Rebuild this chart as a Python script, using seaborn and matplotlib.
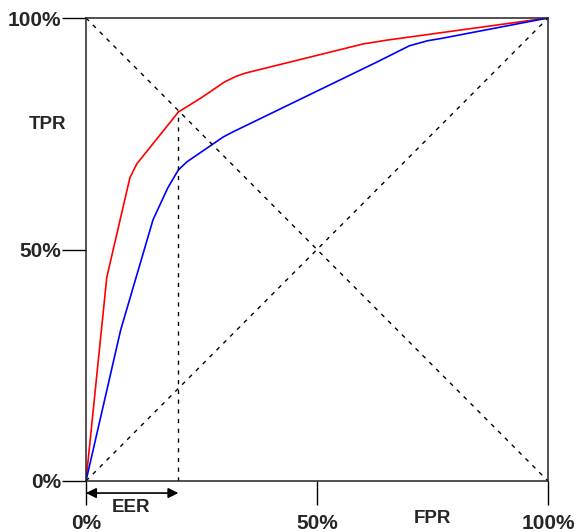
import numpy as np
import pandas as pd
import matplotlib
matplotlib.use("Agg")
import matplotlib.pyplot as plt
import seaborn as sns

# ROC curves (FPR, TPR as fractions)
red_fpr = [0.0, 0.045, 0.095, 0.11, 0.20, 0.25, 0.30, 0.325, 0.345, 0.60, 0.65, 1.0]
red_tpr = [0.0, 0.44, 0.655, 0.685, 0.797, 0.828, 0.862, 0.874, 0.881, 0.944, 0.952, 1.0]
blue_fpr = [0.0, 0.075, 0.145, 0.177, 0.20, 0.218, 0.297, 0.318, 0.63, 0.70, 0.74, 0.77, 1.0]
blue_tpr = [0.0, 0.326, 0.564, 0.633, 0.672, 0.689, 0.743, 0.754, 0.905, 0.940, 0.951, 0.956, 1.0]

eer = 0.20
ticks = [0.0, 0.5, 1.0]
tick_labels = ["0%", "50%", "100%"]

sns.set_style("white")
plt.rcParams["font.family"] = ["Liberation Sans", "DejaVu Sans"]

fig = plt.figure(figsize=(5.79, 5.32), dpi=100)
ax = fig.add_axes([86 / 579, 1 - 481 / 532, 462 / 579, 463 / 532])

red = pd.DataFrame({"FPR": red_fpr, "TPR": red_tpr})
blue = pd.DataFrame({"FPR": blue_fpr, "TPR": blue_tpr})
sns.lineplot(data=red, x="FPR", y="TPR", color="#ff0000", lw=1.2, sort=False, ax=ax)
sns.lineplot(data=blue, x="FPR", y="TPR", color="#0000ff", lw=1.2, sort=False, ax=ax)

# diagonals and EER marker
dash = (0, (3, 4))
ax.plot([0, 1], [0, 1], color="black", lw=1, linestyle=dash)
ax.plot([0, 1], [1, 0], color="black", lw=1, linestyle=dash)
ax.plot([eer, eer], [0, 1 - eer], color="black", lw=1, linestyle=dash)

ax.annotate("", xy=(0, -0.026), xytext=(eer, -0.026), xycoords="data",
            arrowprops=dict(arrowstyle="<|-|>", color="black", lw=1.2,
                            shrinkA=0, shrinkB=0, mutation_scale=15),
            annotation_clip=False)
ax.text(eer / 2 - 0.003, -0.058, "EER", ha="center", va="center",
        fontsize=13.5, fontweight="bold", clip_on=False)
ax.text(0.749, -0.08, "FPR", ha="center", va="center",
        fontsize=13.5, fontweight="bold", clip_on=False)
ax.text(-0.084, 0.769, "TPR", ha="center", va="center",
        fontsize=13.5, fontweight="bold", clip_on=False)

ax.set_xlim(0, 1)
ax.set_ylim(0, 1)
ax.set_xticks(ticks)
ax.set_xticklabels(tick_labels, fontsize=15, fontweight="bold")
ax.set_yticks(ticks)
ax.set_yticklabels(tick_labels, fontsize=15, fontweight="bold")
ax.set_xlabel("")
ax.set_ylabel("")
ax.tick_params(axis="x", direction="out", length=17, width=1, color="black", pad=7)
ax.tick_params(axis="y", direction="out", length=17, width=1, color="black", pad=1)
ax.tick_params(bottom=True, left=True, top=False, right=False)

for side in ["left", "right", "top", "bottom"]:
    ax.spines[side].set_visible(True)
    ax.spines[side].set_color("#222222")
    ax.spines[side].set_linewidth(1.1)

fig.savefig("out.png", dpi=100, facecolor="white")
